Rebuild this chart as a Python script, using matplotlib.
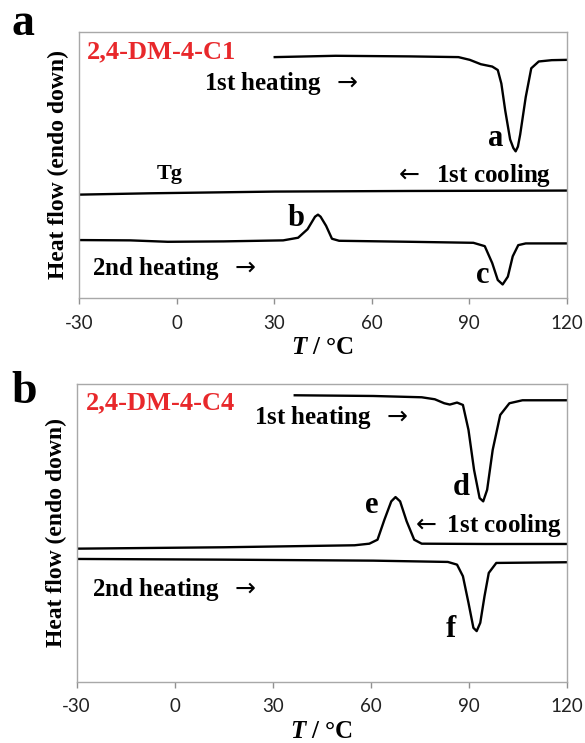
import matplotlib
matplotlib.use("Agg")
import matplotlib.pyplot as plt

plt.rcParams['mathtext.fontset'] = 'custom'
plt.rcParams['mathtext.it'] = 'Liberation Serif:bold:italic'
plt.rcParams['mathtext.rm'] = 'Liberation Serif:bold'
plt.rcParams['mathtext.sf'] = 'DejaVu Sans'

SERIF = ['Liberation Serif', 'DejaVu Serif']
TICKS = [-30, 0, 30, 60, 90, 120]
RARR = r'$\mathsf{\rightarrow}$'
LARR = r'$\mathsf{\leftarrow}$'

# panel a : 2,4-DM-4-C1  (heat flow in arbitrary units)
a_heat1_T = [30.2, 48.9, 71.8, 86.7, 90.2, 93.6, 97.1, 98.8, 99.9, 101.1, 102.6, 103.6, 104.3,
             105.0, 105.7, 107.4, 109.1, 111.4, 115.4, 120]
a_heat1_y = [237, 238.3, 237.7, 237, 234.3, 230, 227.7, 224.3, 211, 184.3, 156, 147.5, 144.3,
             149, 161, 197.7, 226, 232.7, 234, 234.3]
a_cool1_T = [-30, -8.4, 30.2, 71.8, 120]
a_cool1_y = [101.7, 103, 104.7, 105.3, 105.7]
a_heat2_T = [-30, -14.2, -2.7, 14.5, 32.8, 37.4, 40.3, 42.6, 43.5, 44.3, 46, 47.8, 50, 71.8,
             91.3, 94.8, 97.1, 98.8, 100.3, 101.9, 103.4, 105.1, 107.4, 120]
a_heat2_y = [57, 56.7, 55.3, 55.7, 56.7, 59.3, 67.7, 80, 82, 80, 71, 58.3, 56.3, 55.3,
             54.3, 51, 34.3, 17.7, 13.3, 21, 41, 52, 53.7, 53.7]

# panel b : 2,4-DM-4-C4
b_heat1_T = [36.7, 60.7, 75.5, 79.5, 82.4, 84.1, 86.3, 88.1, 89.8, 91.5, 93.2, 94.3,
             95.5, 97.2, 99.5, 102.3, 106.3, 120]
b_heat1_y = [287, 286.3, 285, 283, 279, 277.7, 279.7, 277.3, 252.3, 212.3, 184, 180.7,
             192.3, 232.3, 267.3, 279, 282, 282]
b_cool1_T = [-30, 15, 55, 59.5, 62, 64.1, 66.2, 67.5, 68.9, 70.9, 73.2, 75.5, 94.9, 120]
b_cool1_y = [133.3, 134.7, 136.7, 138.3, 142.3, 162.3, 180.7, 185, 180.7, 160.7, 142.3,
             138.3, 138, 138]
b_heat2_T = [-30, 15, 60.7, 83.5, 86.3, 88.1, 89.8, 91.3, 92.3, 93.4, 94.7, 96, 98.3, 120]
b_heat2_y = [123, 122.3, 121.3, 120, 117.3, 105.7, 79, 54, 50.7, 59, 85.7, 109, 119, 119.7]

W, H = 585, 743
fig = plt.figure(figsize=(W / 100, H / 100), dpi=100)


def make_axes(left, right, top, bottom, ytop):
    ax = fig.add_axes([left / W, 1 - bottom / H, (right - left) / W, (bottom - top) / H])
    ax.set_xlim(-30, 120)
    ax.set_ylim(0, ytop)
    ax.set_xticks(TICKS)
    ax.set_xticklabels([str(t) for t in TICKS], fontfamily='Lato', fontsize=13.5, color='#222222')
    ax.set_yticks([])
    ax.tick_params(axis='x', direction='out', length=4, width=1, color='#909090', pad=8)
    for s in ax.spines.values():
        s.set_color('#a8a8a8')
        s.set_linewidth(1)
    ax.set_ylabel('Heat flow (endo down)', family=SERIF, fontweight='bold', fontsize=17, labelpad=7)
    ax.set_xlabel(r'$T$ / °C', family=SERIF, fontweight='bold', fontsize=18, labelpad=3)
    return ax


def label(ax, x, y, s, size=18, ha='left', color='black'):
    ax.text(x, y, s, family=SERIF, fontweight='bold', fontsize=size, ha=ha, va='center', color=color)


# ---- panel a
ax1 = make_axes(79, 566.7, 31.7, 298, 262)
for T, y in [(a_heat1_T, a_heat1_y), (a_cool1_T, a_cool1_y), (a_heat2_T, a_heat2_y)]:
    ax1.plot(T, y, color='black', lw=1.7)
label(ax1, -27.5, 242, '2,4-DM-4-C1', size=19, color='#e8282b')
label(ax1, 8.3, 211, '1st heating  ' + RARR)
label(ax1, 98.1, 157, 'a', size=22, ha='center')
label(ax1, -2, 122, 'Tg', size=16, ha='center')
label(ax1, 67.1, 121, LARR + '  1st cooling')
label(ax1, 36.8, 78, 'b', size=22, ha='center')
label(ax1, -26.1, 29, '2nd heating  ' + RARR)
label(ax1, 94.3, 22, 'c', size=22, ha='center')
fig.text(23 / W, 1 - 35 / H, 'a', family=SERIF, fontweight='bold', fontsize=33, ha='center', va='baseline')

# ---- panel b
ax2 = make_axes(76.5, 567.3, 384, 681.7, 298.3)
for T, y in [(b_heat1_T, b_heat1_y), (b_cool1_T, b_cool1_y), (b_heat2_T, b_heat2_y)]:
    ax2.plot(T, y, color='black', lw=1.7)
label(ax2, -27, 279, '2,4-DM-4-C4', size=19, color='#e8282b')
label(ax2, 24.3, 265, '1st heating  ' + RARR)
label(ax2, 87.6, 195, 'd', size=22, ha='center')
label(ax2, 60.2, 177, 'e', size=22, ha='center')
label(ax2, 72.6, 157, LARR + ' 1st cooling')
label(ax2, -25.3, 92, '2nd heating  ' + RARR)
label(ax2, 84.5, 52, 'f', size=22, ha='center')
fig.text(24 / W, 1 - 403 / H, 'b', family=SERIF, fontweight='bold', fontsize=33, ha='center', va='baseline')

fig.savefig('out.png', dpi=100)
